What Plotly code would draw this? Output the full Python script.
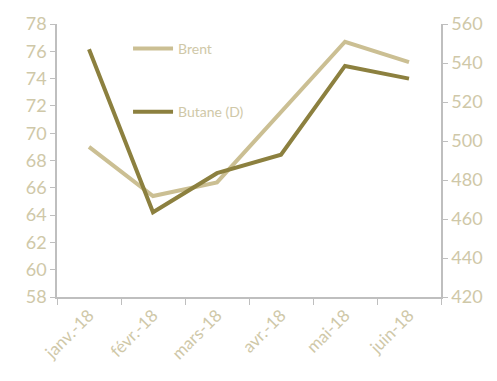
import plotly.graph_objects as go

months = ["janv.-18", "févr.-18", "mars-18", "avr.-18", "mai-18", "juin-18"]
brent = [69.0, 65.4, 66.4, 71.5, 76.7, 75.2]
butane = [547, 463.5, 483.5, 493, 538.5, 532]
left_ticks = list(range(58, 79, 2))
right_ticks = list(range(420, 561, 20))

TXT = "#cfc8a8"
AX = "#bfbfbf"
FONT = "Lato, 'Open Sans', sans-serif"

fig = go.Figure()
fig.add_trace(go.Scatter(x=months, y=brent, name="Brent", mode="lines",
                         line=dict(color="#cbbf93", width=4), legendgroup="a"))
fig.add_trace(go.Scatter(x=months, y=butane, name="Butane (D)", mode="lines",
                         line=dict(color="#8c803f", width=4), yaxis="y2", legendgroup="b"))

fig.update_layout(
    width=497, height=381,
    margin=dict(l=57, r=56, t=21, b=84),
    paper_bgcolor="white", plot_bgcolor="white",
    font=dict(family=FONT, color=TXT, size=15),
    showlegend=True,
    legend=dict(x=0.185, y=0.967, xanchor="left", yanchor="top",
                bgcolor="rgba(0,0,0,0)", tracegroupgap=42,
                font=dict(size=14, color=TXT), itemwidth=40),
    xaxis=dict(range=[-0.5, 5.5], showline=True, linecolor=AX, linewidth=1.5,
               ticks="outside", tickson="boundaries", ticklen=6, tickcolor=AX,
               tickangle=-45, showgrid=False, tickfont=dict(size=17, color=TXT)),
    yaxis=dict(range=[58, 78], tickvals=left_ticks, showline=True, linecolor=AX,
               linewidth=1.5, ticks="outside", ticklen=5, tickcolor=AX,
               showgrid=False, zeroline=False, tickfont=dict(size=18, color=TXT)),
    yaxis2=dict(range=[420, 560], tickvals=right_ticks, overlaying="y", side="right",
                showline=True, linecolor=AX, linewidth=1.5, ticks="outside",
                ticklen=5, tickcolor=AX, showgrid=False, zeroline=False,
                tickfont=dict(size=18, color=TXT)),
)

fig.write_html("out.html")
